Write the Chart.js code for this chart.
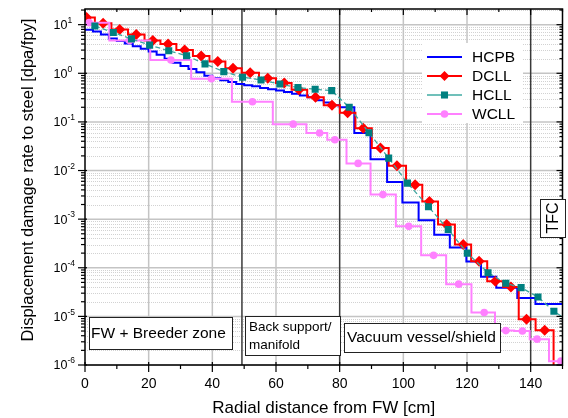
<!DOCTYPE html>
<html>
<head>
<meta charset="utf-8">
<script src="https://cdn.jsdelivr.net/npm/chart.js@4.4.1/dist/chart.umd.min.js"></script>
<style>
  html, body { margin: 0; padding: 0; background: #fff; }
</style>
</head>
<body>
<canvas id="chart" width="568" height="418"></canvas>
<script>
// HCPB: left edge of each step [cm] and its level [dpa/fpy]
const hcpbX = [0, 2.5, 5, 7.5, 10, 12.5, 15, 17.5, 20, 22.5, 25, 27.5, 30, 32.5, 35, 37.5, 40, 42.5, 45, 47.5,
  50, 52.5, 55, 57.5, 60, 62.5, 65, 67.5, 70, 72.5, 75, 77.5, 80, 84.6, 89.7, 94.9, 99.7, 104.8, 109.7, 114.6,
  119.8, 124.4, 129.2, 135.8, 141.5, 150];
const hcpbY = [7.9, 7.2, 6.3, 5.2, 4.6, 4.1, 3.6, 3.2, 2.8, 2.4, 2.0, 1.65, 1.42, 1.23, 1.05, 0.89, 0.79, 0.72, 0.66, 0.60,
  0.57, 0.54, 0.50, 0.47, 0.44, 0.41, 0.38, 0.35, 0.32, 0.28, 0.25, 0.22, 0.20, 0.059, 0.017, 0.0058, 0.0022, 9.5e-4, 4.8e-4, 2.6e-4,
  1.35e-4, 6.5e-5, 3.9e-5, 2.4e-5, 1.8e-5, 1.8e-5];

// DCLL (diamonds, step centred on the marker)
const dcllX = [0.5, 5.7, 10.9, 16.1, 21.3, 26.1, 31.3, 36.5, 41.7, 46.5, 51.9, 57.4, 62.6, 67.2, 72.4, 77.6, 82.5, 87.4,
  92.8, 98, 103.7, 108.2, 113.6, 118.8, 123.8, 128.9, 133.8, 138.7, 144.4, 150];
const dcllY = [14, 10.7, 8.0, 6.3, 4.7, 4.0, 3.0, 2.27, 1.74, 1.27, 1.03, 0.79, 0.63, 0.46, 0.32, 0.22, 0.155, 0.074,
  0.029, 0.0126, 0.0051, 0.0023, 7.8e-4, 3.0e-4, 1.36e-4, 5.3e-5, 4.0e-5, 8.7e-6, 5.2e-6, 3e-7];

// HCLL (squares, straight dashed line)
const hcllX = [3.1, 8.9, 14.6, 20.3, 26.3, 31.9, 37.7, 43.6, 49.5, 55.3, 61.2, 66.9, 72.3, 77.5, 83, 89.2, 95.4, 101.3,
  107.9, 114.1, 120.1, 126.6, 132.2, 137, 142.3, 147.3, 152.5];
const hcllY = [9.4, 6.9, 5.1, 3.8, 2.9, 2.3, 1.56, 1.08, 0.83, 0.73, 0.60, 0.51, 0.47, 0.44, 0.20, 0.06, 0.018, 0.0055,
  0.0018, 6.1e-4, 2.0e-4, 7.9e-5, 4.8e-5, 3.9e-5, 2.5e-5, 1.28e-5, 7.5e-6];

// WCLL (circles, step centred on the marker)
const wcllX = [1.3, 14, 27, 39.7, 52.6, 65.4, 73.7, 78.5, 85.8, 93.6, 101.7, 109.5, 117.4, 125.4, 132.2, 137.4, 142, 149.5];
const wcllY = [11, 4.7, 1.88, 0.77, 0.26, 0.09, 0.059, 0.043, 0.014, 0.0032, 7.1e-4, 1.8e-4, 4.6e-5, 1.2e-5, 5.1e-6, 5.0e-6, 3.4e-6, 1.2e-6];

const xTicks = [0, 20, 40, 60, 80, 100, 120, 140];
const yExponents = [-6, -5, -4, -3, -2, -1, 0, 1];
const zoneLines = [49.3, 80, 140];

const X_MIN = 0, X_MAX = 150, Y_MIN = 1e-6, Y_MAX = 21;
const FONT = '"Liberation Sans", Arial, sans-serif';

const COLORS = {
  hcpb: "#0000ff",
  dcll: "#ff0000",
  hcll: "#008080",
  hcllLine: "#3fa6a0",
  wcll: "#ff80ff",
};

const pts = (xs, ys) => xs.map((x, i) => ({ x: x, y: ys[i] }));

function seg(ctx, x1, y1, x2, y2) {
  ctx.beginPath();
  ctx.moveTo(x1, y1);
  ctx.lineTo(x2, y2);
  ctx.stroke();
}

function marker(ctx, style, x, y, r, color) {
  ctx.fillStyle = color;
  ctx.beginPath();
  if (style === "rectRot") {
    ctx.moveTo(x, y - r); ctx.lineTo(x + r, y); ctx.lineTo(x, y + r); ctx.lineTo(x - r, y);
    ctx.closePath();
  } else if (style === "rect") {
    const s = r * Math.SQRT1_2;
    ctx.rect(x - s, y - s, 2 * s, 2 * s);
  } else {
    ctx.arc(x, y, r, 0, Math.PI * 2);
  }
  ctx.fill();
}

function textBox(ctx, x, y, w, h) {
  ctx.fillStyle = "#fff";
  ctx.fillRect(x, y, w, h);
  ctx.strokeStyle = "#222";
  ctx.lineWidth = 1;
  ctx.strokeRect(x + 0.5, y + 0.5, w, h);
}

const framePlugin = {
  id: "frame",
  beforeDatasetsDraw(chart) {
    const { ctx, chartArea: a, scales: { x, y } } = chart;
    ctx.save();
    // minor log grid (dotted)
    ctx.strokeStyle = "#d2d2d2";
    ctx.lineWidth = 1;
    ctx.setLineDash([1, 1]);
    yExponents.forEach((e) => {
      for (let k = 2; k <= 9; k++) {
        const v = k * Math.pow(10, e);
        if (v > Y_MAX) continue;
        const py = Math.round(y.getPixelForValue(v)) + 0.5;
        seg(ctx, a.left, py, a.right, py);
      }
    });
    ctx.setLineDash([]);
    // major grid
    ctx.strokeStyle = "#c4c4c4";
    ctx.lineWidth = 1.5;
    yExponents.forEach((e) => {
      const py = y.getPixelForValue(Math.pow(10, e));
      seg(ctx, a.left, py, a.right, py);
    });
    xTicks.forEach((v) => {
      if (v === 0 || zoneLines.includes(v)) return;
      const px = x.getPixelForValue(v);
      seg(ctx, px, a.top, px, a.bottom);
    });
    // zone boundaries
    ctx.strokeStyle = "#3a3a3a";
    ctx.lineWidth = 1.5;
    zoneLines.forEach((v) => {
      const px = x.getPixelForValue(v);
      seg(ctx, px, a.top, px, a.bottom);
    });
    ctx.restore();
  },
  afterDatasetsDraw(chart) {
    const { ctx, chartArea: a, scales: { x, y } } = chart;
    ctx.save();
    ctx.strokeStyle = "#000";
    ctx.lineWidth = 1.5;
    ctx.strokeRect(a.left, a.top, a.right - a.left, a.bottom - a.top);

    // x ticks, bottom and top
    ctx.lineWidth = 1.2;
    for (let v = X_MIN; v <= X_MAX; v += 10) {
      const px = x.getPixelForValue(v);
      const major = v % 20 === 0;
      seg(ctx, px, a.bottom - (major ? 3 : 0), px, a.bottom + (major ? 7 : 4));
      seg(ctx, px, a.top, px, a.top + (major ? 6 : 3));
    }
    // y ticks, left and right
    yExponents.forEach((e) => {
      for (let k = 1; k <= 9; k++) {
        const v = k * Math.pow(10, e);
        if (v > Y_MAX) continue;
        const py = y.getPixelForValue(v);
        if (k === 1) {
          seg(ctx, a.left - 7, py, a.left + 2, py);
          seg(ctx, a.right - 6, py, a.right, py);
        } else {
          seg(ctx, a.left - 4, py, a.left, py);
          seg(ctx, a.right - 3, py, a.right, py);
        }
      }
    });

    // tick labels
    ctx.fillStyle = "#000";
    ctx.textBaseline = "middle";
    ctx.textAlign = "center";
    ctx.font = "14px " + FONT;
    xTicks.forEach((v) => ctx.fillText(String(v), x.getPixelForValue(v), 384));
    yExponents.forEach((e) => {
      const py = y.getPixelForValue(Math.pow(10, e));
      ctx.textAlign = "left";
      ctx.font = "12.5px " + FONT;
      ctx.fillText("10", 53.5, py + 1);
      ctx.font = "8.5px " + FONT;
      ctx.fillText(String(e), 67.5, py - 4);
    });

    // axis titles
    ctx.textAlign = "center";
    ctx.font = "17px " + FONT;
    ctx.fillText("Radial distance from FW [cm]", (a.left + a.right) / 2, 408);
    ctx.save();
    ctx.translate(28, 180);
    ctx.rotate(-Math.PI / 2);
    ctx.font = "16.5px " + FONT;
    ctx.fillText("Displacement damage rate to steel [dpa/fpy]", 0, 0);
    ctx.restore();

    // zone labels
    textBox(ctx, 89, 317, 143, 32);
    ctx.fillStyle = "#000";
    ctx.textAlign = "left";
    ctx.font = "15.5px " + FONT;
    ctx.fillText("FW + Breeder zone", 91, 334);

    textBox(ctx, 245, 316, 95, 39);
    ctx.fillStyle = "#000";
    ctx.font = "13.5px " + FONT;
    ctx.fillText("Back support/", 249, 327);
    ctx.fillText("manifold", 249, 345);

    textBox(ctx, 344, 323, 156, 29);
    ctx.fillStyle = "#000";
    ctx.font = "15.5px " + FONT;
    ctx.fillText("Vacuum vessel/shield", 347, 338);

    textBox(ctx, 540, 199, 25, 38);
    ctx.fillStyle = "#000";
    ctx.save();
    ctx.translate(553, 218);
    ctx.rotate(-Math.PI / 2);
    ctx.textAlign = "center";
    ctx.font = "16px " + FONT;
    ctx.fillText("TFC", 0, 1);
    ctx.restore();

    // legend
    ctx.fillStyle = "#fff";
    ctx.fillRect(422, 43, 101, 80);
    const rows = [
      { label: "HCPB", line: COLORS.hcpb, style: null },
      { label: "DCLL", line: COLORS.dcll, style: "rectRot", mark: COLORS.dcll, r: 5 },
      { label: "HCLL", line: "#70c0ba", style: "rect", mark: COLORS.hcll, r: 5 },
      { label: "WCLL", line: COLORS.wcll, style: "circle", mark: COLORS.wcll, r: 3.8 },
    ];
    rows.forEach((row, i) => {
      const ly = 57 + i * 19;
      ctx.strokeStyle = row.line;
      ctx.lineWidth = 2;
      seg(ctx, 427, ly, 462, ly);
      if (row.style) marker(ctx, row.style, 444.5, ly, row.r, row.mark);
      ctx.fillStyle = "#000";
      ctx.textAlign = "left";
      ctx.font = "15.5px " + FONT;
      ctx.fillText(row.label, 472, ly + 1);
    });
    ctx.restore();
  },
};

new Chart(document.getElementById("chart").getContext("2d"), {
  type: "line",
  data: {
    datasets: [
      {
        label: "HCLL",
        data: pts(hcllX, hcllY),
        borderColor: COLORS.hcllLine,
        borderWidth: 1.3,
        borderDash: [5, 3],
        pointStyle: "rect",
        pointRadius: 5,
        pointBackgroundColor: COLORS.hcll,
        pointBorderColor: COLORS.hcll,
        pointBorderWidth: 0,
        order: 0,
      },
      {
        label: "WCLL",
        data: pts(wcllX, wcllY),
        stepped: "middle",
        borderColor: COLORS.wcll,
        borderWidth: 2,
        pointStyle: "circle",
        pointRadius: 3.8,
        pointBackgroundColor: COLORS.wcll,
        pointBorderColor: COLORS.wcll,
        pointBorderWidth: 0,
        order: 1,
      },
      {
        label: "DCLL",
        data: pts(dcllX, dcllY),
        stepped: "middle",
        borderColor: COLORS.dcll,
        borderWidth: 2,
        pointStyle: "rectRot",
        pointRadius: 5.5,
        pointBackgroundColor: COLORS.dcll,
        pointBorderColor: COLORS.dcll,
        pointBorderWidth: 0,
        order: 2,
      },
      {
        label: "HCPB",
        data: pts(hcpbX, hcpbY),
        stepped: "before",
        borderColor: COLORS.hcpb,
        borderWidth: 2,
        pointRadius: 0,
        order: 3,
      },
    ],
  },
  plugins: [framePlugin],
  options: {
    responsive: false,
    animation: false,
    layout: { padding: { top: 9, right: 1, left: 0, bottom: 0 } },
    plugins: { legend: { display: false }, tooltip: { enabled: false } },
    scales: {
      x: {
        type: "linear",
        min: X_MIN,
        max: X_MAX,
        ticks: { display: false },
        grid: { display: false },
        border: { display: false },
        afterFit: (s) => { s.height = 53; },
      },
      y: {
        type: "logarithmic",
        min: Y_MIN,
        max: Y_MAX,
        ticks: { display: false },
        grid: { display: false },
        border: { display: false },
        afterFit: (s) => { s.width = 85; },
      },
    },
  },
});
</script>
</body>
</html>
